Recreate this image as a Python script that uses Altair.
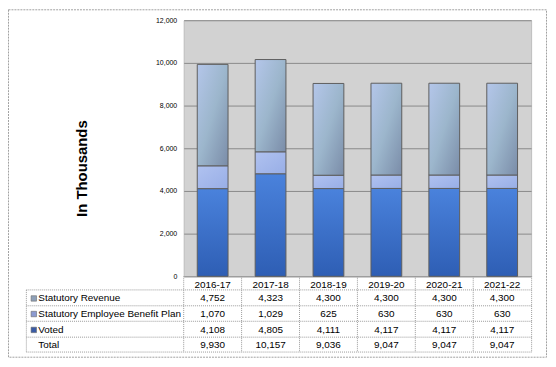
import altair as alt
import pandas as pd

years = ["2016-17", "2017-18", "2018-19", "2019-20", "2020-21", "2021-22"]
statutory_revenue = [4752, 4323, 4300, 4300, 4300, 4300]
employee_benefit = [1070, 1029, 625, 630, 630, 630]
voted = [4108, 4805, 4111, 4117, 4117, 4117]
totals = [9930, 10157, 9036, 9047, 9047, 9047]
series_names = ["Statutory Revenue", "Statutory Employee Benefit Plan", "Voted"]
table_rows = ["Statutory Revenue", "Statutory Employee Benefit Plan", "Voted", "Total"]
y_ticks = [0, 2000, 4000, 6000, 8000, 10000, 12000]

FONT = "Liberation Sans"

# long data for the stacked bars
recs = []
for i, y in enumerate(years):
    recs.append({"year": y, "series": "Voted", "order": 0, "value": voted[i]})
    recs.append({"year": y, "series": "Statutory Employee Benefit Plan", "order": 1, "value": employee_benefit[i]})
    recs.append({"year": y, "series": "Statutory Revenue", "order": 2, "value": statutory_revenue[i]})
df = pd.DataFrame(recs)

# table data
trec = []
row_values = {
    "Statutory Revenue": statutory_revenue,
    "Statutory Employee Benefit Plan": employee_benefit,
    "Voted": voted,
    "Total": totals,
}
for r in table_rows:
    for i, y in enumerate(years):
        trec.append({"year": y, "row": r, "label": f"{row_values[r][i]:,}"})
tdf = pd.DataFrame(trec)
ydf = pd.DataFrame({"year": years})
one = pd.DataFrame({"a": [0]})

x_axis = alt.Axis(title=None, labelFontSize=10, labelFont=FONT, labelColor="black",
                  labelPadding=3, ticks=False, domain=False, labelAngle=0)
x_scale = alt.Scale(domain=years, paddingInner=0, paddingOuter=0)
X = alt.X("year:N", scale=x_scale, axis=x_axis, sort=years)

y_scale = alt.Scale(domain=[0, 12000], nice=False, zero=True)
y_axis = alt.Axis(values=y_ticks, format=",.0f", labelFontSize=7, labelFont=FONT, labelColor="black",
                  labelPadding=7, ticks=False, domain=False, grid=True, gridColor="#8a8a8a",
                  gridWidth=1, title="In Thousands", titleFontSize=15, titleFont=FONT,
                  titleFontWeight="bold", titleColor="black", titleX=-103, titleY=149,
                  titleAngle=270, titleAlign="center", titleBaseline="middle")

gradients = {
    "Statutory Revenue": alt.LinearGradient(
        gradient="linear", x1=0, y1=0, x2=1, y2=1,
        stops=[alt.GradientStop(color="#b4c6ea", offset=0),
               alt.GradientStop(color="#9cb6cc", offset=0.5),
               alt.GradientStop(color="#7a8ca8", offset=1)]),
    "Statutory Employee Benefit Plan": alt.LinearGradient(
        gradient="linear", x1=0, y1=0, x2=1, y2=1,
        stops=[alt.GradientStop(color="#b0c2f0", offset=0),
               alt.GradientStop(color="#98aee6", offset=1)]),
    "Voted": alt.LinearGradient(
        gradient="linear", x1=0, y1=0, x2=0, y2=1,
        stops=[alt.GradientStop(color="#4a82dc", offset=0),
               alt.GradientStop(color="#2e5eb4", offset=1)]),
}
swatch_colors = {
    "Statutory Revenue": "#8ea0b8",
    "Statutory Employee Benefit Plan": "#8c9ad0",
    "Voted": "#3a5ca6",
}

layers = []

base = alt.Chart(df).transform_stack(
    stack="value", groupby=["year"], as_=["y0", "y1"], sort=[alt.SortField("order")]
)
for name in ["Voted", "Statutory Employee Benefit Plan", "Statutory Revenue"]:
    layers.append(
        base.transform_filter(alt.datum.series == name)
        .mark_bar(width=31, color=gradients[name], stroke="#5e5e5e", strokeWidth=1)
        .encode(x=X, y=alt.Y("y0:Q", scale=y_scale, axis=y_axis), y2="y1:Q")
    )

# table layout (pixel rows below the plot)
row_text_y = [280.3, 296, 312, 327.7]
hlines = [271.7, 287.7, 303.3, 319.3, 334.3]
grid_col = "#9a9a9a"

for yv in hlines:
    layers.append(alt.Chart(one).mark_rule(color=grid_col, strokeDash=[1, 1], strokeWidth=1).encode(
        x=alt.value(-158.5), x2=alt.value(350.5), y=alt.value(yv)))
layers.append(alt.Chart(one).mark_rule(color=grid_col, strokeDash=[1, 1], strokeWidth=1).encode(
    x=alt.value(-158.5), y=alt.value(hlines[0]), y2=alt.value(hlines[-1])))
layers.append(alt.Chart(one).mark_rule(color=grid_col, strokeDash=[1, 1], strokeWidth=1).encode(
    x=alt.value(350.5), y=alt.value(258), y2=alt.value(hlines[-1])))
layers.append(alt.Chart(ydf).mark_rule(color=grid_col, strokeDash=[1, 1], strokeWidth=1).encode(
    x=alt.X("year:N", scale=x_scale, axis=x_axis, sort=years, bandPosition=0),
    y=alt.value(258), y2=alt.value(hlines[-1])))

for i, r in enumerate(table_rows):
    layers.append(
        alt.Chart(tdf).transform_filter(alt.datum.row == r)
        .mark_text(fontSize=10, font=FONT, color="black", baseline="middle")
        .encode(x=X, y=alt.value(row_text_y[i]), text="label:N")
    )
    layers.append(
        alt.Chart(pd.DataFrame({"row": [r]}))
        .mark_text(fontSize=10, font=FONT, color="black", baseline="middle", align="left")
        .encode(x=alt.value(-146.5), y=alt.value(row_text_y[i]), text="row:N")
    )
    if r in swatch_colors:
        layers.append(
            alt.Chart(pd.DataFrame({"row": [r]}))
            .mark_square(size=30, color=swatch_colors[r], stroke="#6a6a6a", strokeWidth=0.6, opacity=1)
            .encode(x=alt.value(-151), y=alt.value(row_text_y[i]))
        )

# outer dashed frame
layers.append(alt.Chart(one).mark_rect(fillOpacity=0, stroke="#a0a0a0", strokeDash=[2, 1], strokeWidth=1).encode(
    x=alt.value(-176.5), x2=alt.value(365.5), y=alt.value(-10.5), y2=alt.value(339.5)))

chart = alt.layer(*layers).properties(
    width=350, height=258,
    autosize=alt.AutoSizeParams(type="none"),
    padding={"left": 177, "top": 11, "right": 17, "bottom": 82},
).configure_view(fill="#d2d2d2", stroke="#bdbdbd")

chart.save("out.html", embed_options={"renderer": "svg", "actions": False})
